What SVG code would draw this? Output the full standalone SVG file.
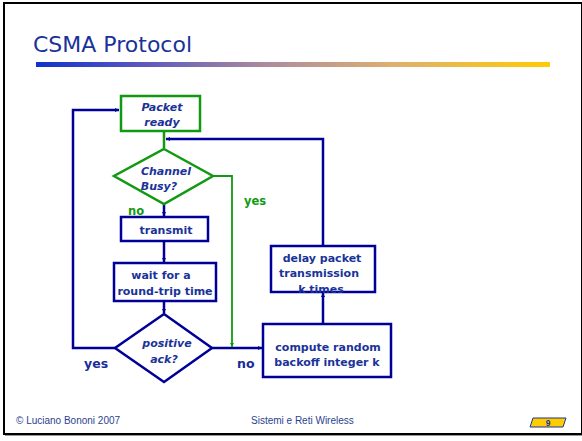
<svg xmlns="http://www.w3.org/2000/svg" width="582" height="441" viewBox="0 0 582 441">
<defs>
<linearGradient id="bar" x1="0" y1="0" x2="1" y2="0">
<stop offset="0" stop-color="#0f33cc"/>
<stop offset="0.2" stop-color="#5a55c0"/>
<stop offset="0.45" stop-color="#ad8c9c"/>
<stop offset="0.7" stop-color="#deb070"/>
<stop offset="1" stop-color="#ffcc00"/>
</linearGradient>
<marker id="ab" viewBox="0 0 10 10" refX="10" refY="5" markerWidth="4" markerHeight="4" orient="auto" markerUnits="userSpaceOnUse">
<path d="M0,0 L10,5 L0,10 z" fill="#000099"/>
</marker>
<marker id="ag" viewBox="0 0 10 10" refX="10" refY="5" markerWidth="4" markerHeight="4" orient="auto" markerUnits="userSpaceOnUse">
<path d="M0,0 L10,5 L0,10 z" fill="#129912"/>
</marker>
<style>
.bx{fill:#fff;stroke:#000099;stroke-width:2.5}
.gx{fill:#fff;stroke:#129912;stroke-width:2.5}
.t{font-family:"DejaVu Sans",sans-serif;font-weight:bold;font-size:11px;fill:#1a3399;text-anchor:middle}
.i{font-style:italic}
.b{fill:none;stroke:#000099;stroke-width:2.5}
.g{fill:none;stroke:#129912;stroke-width:1.8}
.lb{font-family:"DejaVu Sans",sans-serif;font-weight:bold;font-size:12.5px;fill:#1a2a99}
.lg{font-family:"DejaVu Sans",sans-serif;font-weight:bold;font-size:11.5px;fill:#129912}
.ft{font-family:"Liberation Sans",Arial,sans-serif;font-size:10px;fill:#2b3f8f}
</style>
</defs>
<rect x="0" y="0" width="582" height="441" fill="#fff"/>
<rect x="4" y="3" width="578" height="431" fill="none" stroke="#000" stroke-width="2"/>
<line x1="5" y1="435.5" x2="582" y2="435.5" stroke="#999" stroke-width="1"/>
<text x="33" y="52" font-family="'DejaVu Sans',Verdana,sans-serif" font-size="22" fill="#1a3399">CSMA Protocol</text>
<rect x="36" y="62" width="514" height="5" fill="url(#bar)"/>

<g id="connectors">
<path class="b" d="M115,348 H73 V110 H119" marker-end="url(#ab)"/>
<path class="b" d="M323,246 V139 H166" marker-end="url(#ab)"/>
<path class="b" d="M164,131 V148" stroke-width="2" style="stroke:#129912"/>
<path class="b" d="M164,204 V216" stroke-width="2" marker-end="url(#ab)"/>
<path class="b" d="M164,241 V262" stroke-width="2" marker-end="url(#ab)"/>
<path class="b" d="M164,301 V313" stroke-width="2" marker-end="url(#ab)"/>
<path class="b" d="M212,348 H262" stroke-width="2" marker-end="url(#ab)"/>
<path class="b" d="M323,323 V293" marker-end="url(#ab)"/>
<path class="g" d="M213,176 H232 V347" marker-end="url(#ag)"/>
</g>

<g id="packet-ready">
<rect class="gx" x="121" y="96" width="79" height="35"/>
<text class="t i" x="162" y="111">Packet</text>
<text class="t i" x="162" y="126">ready</text>
</g>
<g id="channel-busy">
<polygon class="gx" points="164,149 213,176 164,204 114,176"/>
<text class="t i" x="166" y="175">Channel</text>
<text class="t i" x="159" y="190">Busy?</text>
</g>
<g id="transmit">
<rect class="bx" x="121" y="217" width="87" height="24"/>
<text class="t" x="166" y="234">transmit</text>
</g>
<g id="wait">
<rect class="bx" x="114" y="263" width="102" height="38"/>
<text class="t" x="161" y="279">wait for a</text>
<text class="t" x="165" y="295">round-trip time</text>
</g>
<g id="positive-ack">
<polygon class="bx" points="164,314 212,348 164,382 115,348"/>
<text class="t i" x="167" y="347">positive</text>
<text class="t i" x="164" y="363">ack?</text>
</g>
<g id="compute">
<rect class="bx" x="263" y="324" width="128" height="53"/>
<text class="t" x="328" y="351">compute random</text>
<text class="t" x="327" y="366">backoff integer k</text>
</g>
<g id="delay">
<rect class="bx" x="271" y="246" width="104" height="46"/>
<text class="t" x="322" y="262">delay packet</text>
<text class="t" x="319" y="277">transmission</text>
<text class="t" x="321" y="293">k times</text>
</g>

<text class="lg" x="128" y="215">no</text>
<text class="lg" x="244" y="205">yes</text>
<text class="lb" x="84" y="368">yes</text>
<text class="lb" x="237" y="368">no</text>

<text class="ft" x="16" y="424">© Luciano Bononi 2007</text>
<text class="ft" x="251" y="424">Sistemi e Reti Wireless</text>
<g id="page">
<polygon points="533,418 566,418 563,427 530,427" fill="#ffcc00" stroke="#1a3399" stroke-width="1"/>
<text x="548" y="426" font-family="'Liberation Sans',Arial,sans-serif" font-size="8.5" font-weight="bold" fill="#1a3399" text-anchor="middle">9</text>
</g>
</svg>
